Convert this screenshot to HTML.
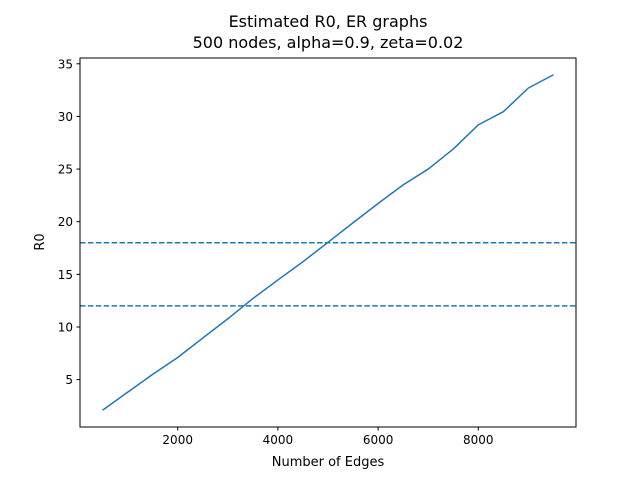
<!DOCTYPE html>
<html><head><meta charset="utf-8"><style>
body{margin:0;background:#fff}
svg text{font-family:"DejaVu Sans","Liberation Sans",sans-serif;fill:#000}
</style></head><body>
<svg id="chart" width="640" height="480" viewBox="0 0 640 480">
<rect width="640" height="480" fill="#fff"/>
<text x="328" y="27" font-size="16" text-anchor="middle">Estimated R0, ER graphs</text>
<text x="328" y="48" font-size="16" text-anchor="middle">500 nodes, alpha=0.9, zeta=0.02</text>
<g id="plot"></g>
<text x="328" y="466" font-size="13" text-anchor="middle">Number of Edges</text>
<text transform="translate(44,242) rotate(-90)" font-size="13" text-anchor="middle">R0</text>
</svg>
<script>
const edges=[500,1000,1500,2000,2500,3000,3500,4000,4500,5000,5500,6000,6500,7000,7500,8000,8500,9000,9500];
const r0=[2.09,3.8,5.5,7.1,8.95,10.78,12.7,14.47,16.2,18.04,19.9,21.73,23.5,25.0,26.9,29.2,30.45,32.7,33.96];
const hlines=[18,12];
const xTicks=[2000,4000,6000,8000];
const yTicks=[5,10,15,20,25,30,35];
const L=80,R=576,T=58,B=427;
const xmin=50,xmax=9950,ymin=0.5,ymax=35.55;
const sx=v=>L+(v-xmin)/(xmax-xmin)*(R-L);
const sy=v=>B-(v-ymin)/(ymax-ymin)*(B-T);
const NS="http://www.w3.org/2000/svg";
const g=document.getElementById('plot');
function mk(t,a){const e=document.createElementNS(NS,t);for(const k in a)e.setAttribute(k,a[k]);g.appendChild(e);return e;}
hlines.forEach(h=>{
 const l=mk('line',{x1:L,x2:R,y1:sy(h),y2:sy(h),stroke:'#1f77b4','stroke-width':1.5,'stroke-dasharray':'5.5,2.4'});
 
 
});
const p=mk('polyline',{points:edges.map((x,i)=>sx(x)+','+sy(r0[i])).join(' '),fill:'none',stroke:'#1f77b4','stroke-width':1.5,'stroke-linejoin':'round'});


const f=mk('rect',{x:L,y:T,width:R-L,height:B-T,fill:'none',stroke:'#000','stroke-width':1});


xTicks.forEach(v=>{
 const x=sx(v);
 const tk=mk('line',{x1:x,x2:x,y1:B,y2:B+3.5,stroke:'#000'});
 
 
 const t=mk('text',{x:x,y:B+17,'font-size':12,'text-anchor':'middle'});t.textContent=v;
 
 
});
yTicks.forEach(v=>{
 const y=sy(v);
 const tk=mk('line',{x1:L-3.5,x2:L,y1:y,y2:y,stroke:'#000'});
 
 
 const t=mk('text',{x:L-7,y:y+4.5,'font-size':12,'text-anchor':'end'});t.textContent=v;
 
 
});
</script>
</body></html>
